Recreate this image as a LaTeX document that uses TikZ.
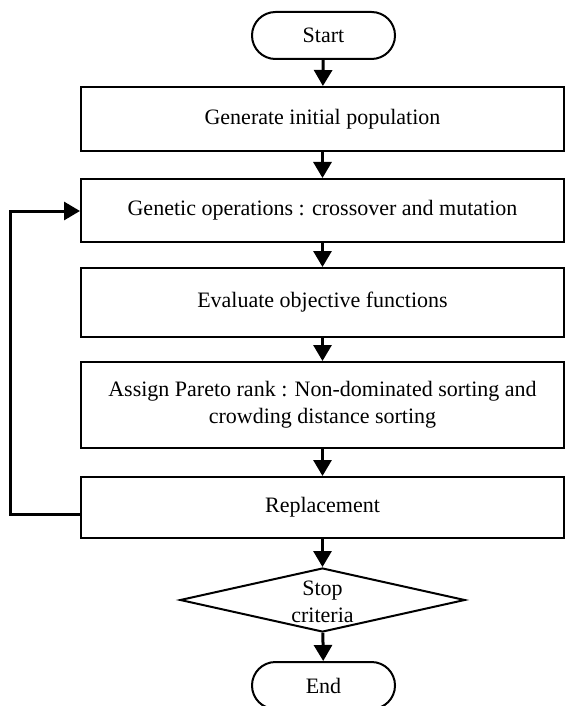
\documentclass[tikz,border=0pt]{standalone}
\usepackage{fontspec}
\setmainfont{Liberation Serif}
\usetikzlibrary{arrows.meta,shapes.geometric}
\begin{document}
\begin{tikzpicture}[x=0.75pt,y=-0.75pt,
  txt/.style={font=\fontsize{16.5}{20.5}\selectfont},
  box/.style={txt, draw, line width=1.5pt, rectangle, minimum width=362.25pt, inner sep=0pt, align=center},
  term/.style={txt, draw, line width=1.5pt, rectangle, rounded corners=17.6pt, minimum width=107.25pt, minimum height=35.25pt, inner sep=0pt},
  dec/.style={draw, line width=1.5pt, diamond, minimum width=213.75pt, minimum height=48pt, inner sep=0pt},
  flow/.style={line width=2.25pt, -{Triangle[length=12pt,width=13.5pt]}},
]
\useasboundingbox (0,0) rectangle (565,706);
\node[term] (start) at (323.5,35.5) {Start};
\node[box, minimum height=48pt] (b1) at (322.5,119) {Generate initial population};
\node[box, minimum height=47.25pt] (b2) at (322.5,210.5) {Genetic operations : crossover and mutation};
\node[box, minimum height=51.75pt] (b3) at (322.5,302.5) {Evaluate objective functions};
\node[box, minimum height=64.5pt] (b4) at (322.5,405) {Assign Pareto rank : Non-dominated sorting and\\crowding distance sorting};
\node[box, minimum height=45.75pt] (b5) at (322.5,507.5) {Replacement};
\node[dec] (stop) at (322.5,600) {};
\node[txt, align=center, inner sep=0pt] (stoptext) at (322.5,602) {Stop\\criteria};
\node[term] (end) at (323.5,685.5) {End};

\draw[flow] (start) -- (b1);
\draw[flow] (b1) -- (b2);
\draw[flow] (b2) -- (b3);
\draw[flow] (b3) -- (b4);
\draw[flow] (b4) -- (b5);
\draw[flow] (b5) -- (stop);
\draw[flow] (stop) -- (end);

\coordinate (l1) at (10,514);
\coordinate (l2) at (10,211);
\draw[flow, line join=miter] (b5.west |- l1) -- (l1) -- (l2) -- (b2.west |- l2);
\end{tikzpicture}
\end{document}
